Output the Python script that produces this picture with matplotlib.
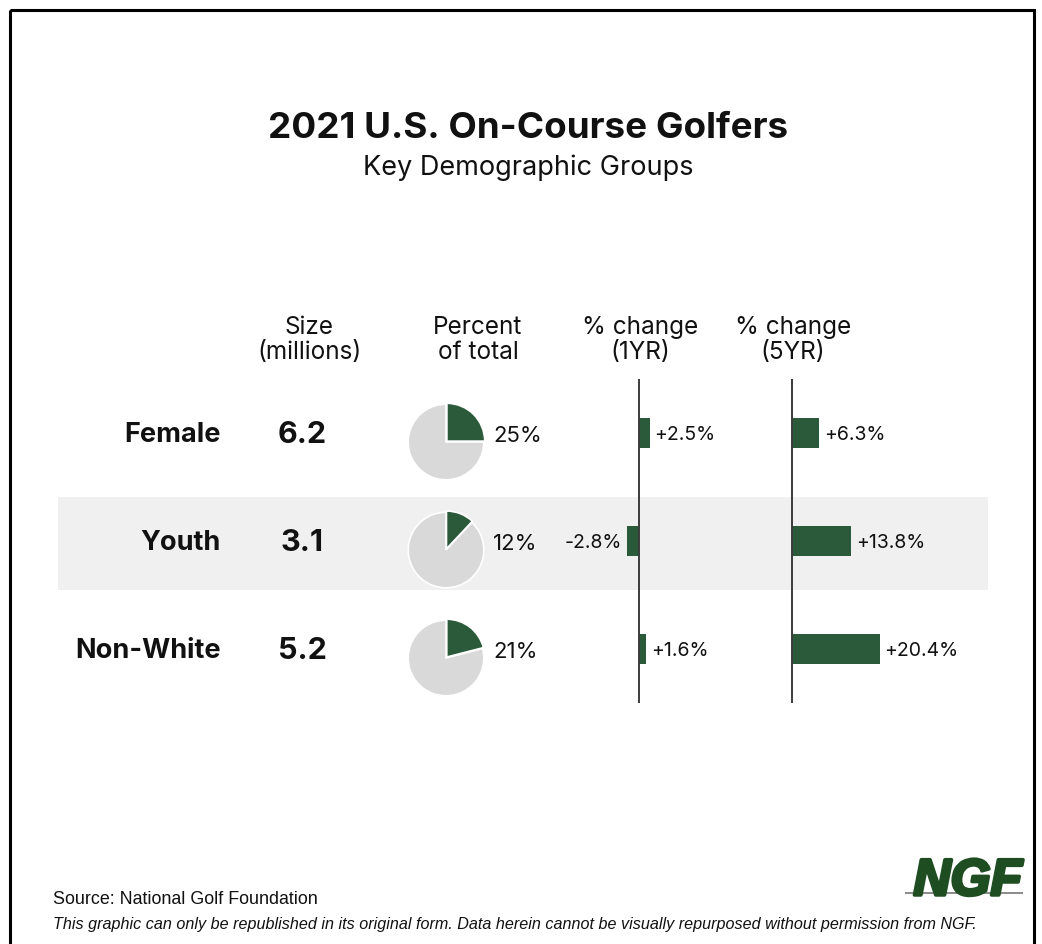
import matplotlib.pyplot as plt
import matplotlib.patheffects as pe
from matplotlib.patches import Rectangle

W, H = 1042, 944

groups = ["Female", "Youth", "Non-White"]
size_millions = [6.2, 3.1, 5.2]
pct_of_total = [25, 12, 21]
chg_1yr = [2.5, -2.8, 1.6]
chg_5yr = [6.3, 13.8, 20.4]
headers = ["Size\n(millions)", "Percent\nof total", "% change\n(1YR)", "% change\n(5YR)"]

green = "#2a5a3a"
grey_pie = "#d9d9d9"
band = "#f0f0f0"
ink = "#111111"

plt.rcParams["font.family"] = ["Inter", "DejaVu Sans"]

fig = plt.figure(figsize=(W / 100, H / 100), dpi=100)
fig.patch.set_facecolor("white")


def px_axes(x0, y0, x1, y1, **kw):
    return fig.add_axes([x0 / W, 1 - y1 / H, (x1 - x0) / W, (y1 - y0) / H], **kw)


# background layer in pixel coordinates
bg = px_axes(0, 0, W, H)
bg.set_xlim(0, W)
bg.set_ylim(H, 0)
bg.axis("off")

bg.add_patch(Rectangle((10, 10), 1024, 960, fill=False, lw=2.2, ec="black"))
bg.add_patch(Rectangle((58, 497), 930, 93, color=band, lw=0))

bg.text(528, 129, "2021 U.S. On-Course Golfers", ha="center", va="center",
        fontsize=26.5, fontweight="bold", color=ink)
bg.text(528, 168, "Key Demographic Groups", ha="center", va="center",
        fontsize=19.5, color=ink)

header_x = [309, 478, 640, 793]
for hx, h in zip(header_x, headers):
    bg.text(hx, 340, h, ha="center", va="center", fontsize=17.5, color=ink,
            linespacing=1.15)

row_y = [434, 542, 650]
for y, g, s, p in zip(row_y, groups, size_millions, pct_of_total):
    bg.text(221, y + 1, g, ha="right", va="center", fontsize=19.5, fontweight="bold", color=ink)
    bg.text(302, y + 1, f"{s}", ha="center", va="center", fontsize=22, fontweight="bold", color=ink)
    bg.text(493, y + 2, f"{p}%", ha="left", va="center", fontsize=16, color=ink)

# pies
for y, p in zip(row_y, pct_of_total):
    pax = px_axes(446 - 42, y + 8 - 42, 446 + 42, y + 8 + 42)
    pax.pie([p, 100 - p], colors=[green, grey_pie], startangle=90, counterclock=False,
            explode=[0.03, 0], radius=0.9,
            wedgeprops=dict(edgecolor="white", linewidth=1.2))
    pax.set_xlim(-1, 1)
    pax.set_ylim(-1, 1)
    pax.set_aspect("equal")

# % change bars
scale = 4.3  # pixels per percentage point
for zero_x, vals in [(639, chg_1yr), (792, chg_5yr)]:
    x0, x1 = zero_x - 80, zero_x + 170
    ax = px_axes(x0, 379, x1, 703)
    ax.patch.set_alpha(0)
    ax.set_xlim((x0 - zero_x) / scale, (x1 - zero_x) / scale)
    ax.set_ylim(2.5, -0.5)
    ax.axis("off")
    ax.barh(range(len(vals)), vals, height=0.27, color=green, zorder=2)
    ax.axvline(0, color="#3c3c3c", lw=1.4, zorder=3)
    for i, v in enumerate(vals):
        lab = f"+{v}%" if v > 0 else f"{v}%"
        ax.annotate(lab, (v, i), xytext=(3.5 if v > 0 else -3.5, -1.2),
                    textcoords="offset points", ha="left" if v > 0 else "right",
                    va="center", fontsize=14, color=ink)

# footer
bg.text(53, 899, "Source: National Golf Foundation", ha="left", va="center",
        fontsize=12.9, color=ink, family="Liberation Sans")
bg.text(53, 924, "This graphic can only be republished in its original form. Data herein "
        "cannot be visually repurposed without permission from NGF.", ha="left", va="center",
        fontsize=11.6, style="italic", color=ink, family="Liberation Sans")

# NGF mark
bg.text(1022, 895, "NGF", ha="right", va="baseline", fontsize=37, fontweight="bold",
        style="italic", color="#1f4d22", family="Liberation Sans",
        path_effects=[pe.withStroke(linewidth=2.5, foreground="#1f4d22")])
bg.plot([905, 1023], [891.5, 891.5], color="white", lw=2.5, solid_capstyle="butt")
bg.plot([905, 1023], [893, 893], color="#8a8a8a", lw=1.4, solid_capstyle="butt")

fig.savefig("out.png", dpi=100, facecolor="white")
